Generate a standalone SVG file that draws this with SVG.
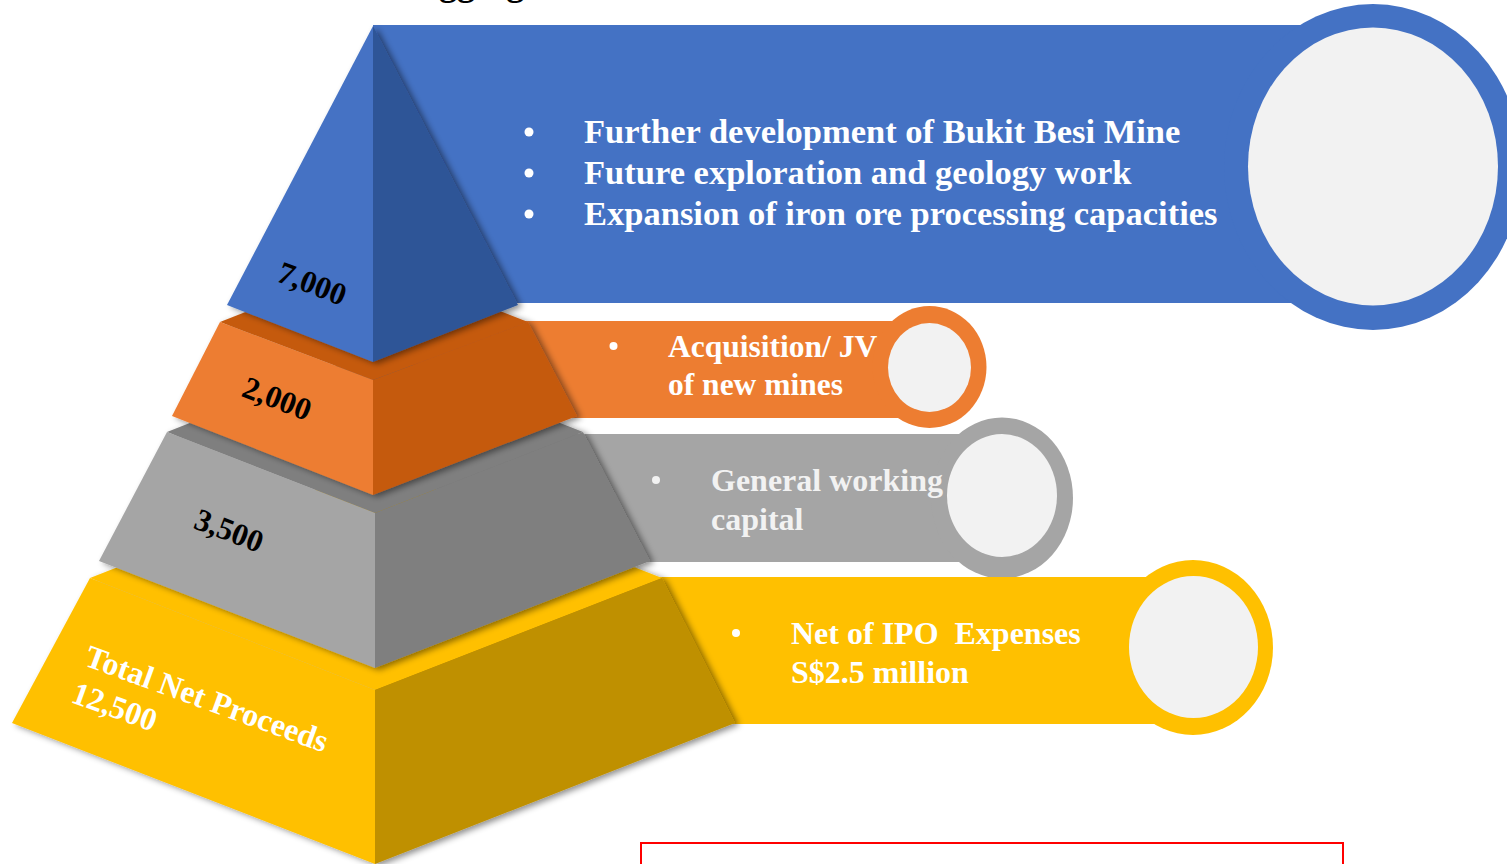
<svg xmlns="http://www.w3.org/2000/svg" width="1507" height="864" viewBox="0 0 1507 864">
<defs>
<style>
.t{font-family:"Liberation Serif","Times New Roman",serif;font-weight:bold}
.w{fill:#FFFFFF}
.lg{fill:#F2F2F2}
.lbl{font-size:31.5px;fill:#000000;text-anchor:middle}
.hole{fill:#F2F2F2}
</style>
<filter id="sh" x="-20%" y="-20%" width="140%" height="140%">
<feDropShadow dx="4" dy="2" stdDeviation="3" flood-color="#000000" flood-opacity="0.45"/>
</filter>
</defs>
<rect x="0" y="0" width="1507" height="864" fill="#FFFFFF"/>
<text class="t" x="413" y="-5" font-size="36" fill="#000000">Aggregate</text>

<g id="banner-blue">
<rect x="373" y="25" width="950" height="278" fill="#4472C4"/>
<ellipse cx="1373" cy="167" rx="149" ry="163" fill="#4472C4"/>
<ellipse class="hole" cx="1373" cy="166.5" rx="125" ry="139"/>
<g class="t w" font-size="34.5">
<circle cx="529" cy="132" r="4.5"/>
<circle cx="529" cy="173" r="4.5"/>
<circle cx="529" cy="214" r="4.5"/>
<text x="584" y="143">Further development of Bukit Besi Mine</text>
<text x="584" y="184">Future exploration and geology work</text>
<text x="584" y="225">Expansion of iron ore processing capacities</text>
</g>
</g>

<g id="banner-orange">
<rect x="373" y="321" width="540" height="97" fill="#ED7D31"/>
<ellipse cx="929.5" cy="367" rx="57" ry="61" fill="#ED7D31"/>
<ellipse class="hole" cx="929.5" cy="367.5" rx="41.5" ry="44.5"/>
<g class="t w" font-size="31.5">
<circle cx="613.5" cy="346" r="4"/>
<text x="668" y="357">Acquisition/ JV</text>
<text x="668" y="395">of new mines</text>
</g>
</g>

<g id="banner-gray">
<rect x="375" y="434" width="630" height="128" fill="#A5A5A5"/>
<ellipse cx="1002" cy="498" rx="71" ry="80.5" fill="#A5A5A5"/>
<ellipse class="hole" cx="1002" cy="495.5" rx="55" ry="61.5"/>
<g class="t lg" font-size="32">
<circle cx="656" cy="480" r="4"/>
<text x="711" y="491">General working</text>
<text x="711" y="530">capital</text>
</g>
</g>

<g id="banner-yellow">
<rect x="375" y="577" width="820" height="147" fill="#FFC000"/>
<ellipse cx="1193" cy="647.5" rx="80" ry="87.5" fill="#FFC000"/>
<ellipse class="hole" cx="1193.5" cy="647" rx="64.5" ry="71"/>
<g class="t w" font-size="32">
<circle cx="736" cy="633" r="4"/>
<text x="791" y="644" xml:space="preserve">Net of IPO  Expenses</text>
<text x="791" y="683">S$2.5 million</text>
</g>
</g>

<g id="layer-yellow" filter="url(#sh)">
<polygon points="90,578 375,466 662,578 375,690" fill="#FFC000"/>
<polygon points="90,578 375,690 375,864 12,723" fill="#FFC000"/>
<polygon points="375,690 662,578 735,723 375,864" fill="#BF9000"/>
</g>
<g id="label-yellow" class="t w" font-size="32">
<g transform="translate(83,665) rotate(20)">
<text x="0" y="0">Total Net Proceeds</text>
<text x="0" y="39">12,500</text>
</g>
</g>

<g id="layer-gray" filter="url(#sh)">
<polygon points="167,432 375,350 583,432 375,513" fill="#7F7F7F"/>
<polygon points="167,432 375,513 375,668 99,561" fill="#A5A5A5"/>
<polygon points="375,513 583,432 650,561 375,668" fill="#7F7F7F"/>
</g>
<text class="t lbl" transform="translate(229,531) rotate(21)" x="0" y="10">3,500</text>

<g id="layer-orange" filter="url(#sh)">
<polygon points="220,322 373,262 528,322 373,380" fill="#C55A11"/>
<polygon points="220,322 373,380 373,495 172,416" fill="#ED7D31"/>
<polygon points="373,380 528,322 577,416 373,495" fill="#C55A11"/>
</g>
<text class="t lbl" transform="translate(277,399) rotate(21)" x="0" y="10">2,000</text>

<g id="layer-blue" filter="url(#sh)">
<polygon points="373,26 227,305 373,362" fill="#4472C4"/>
<polygon points="373,26 518,305 373,362" fill="#2F5597"/>
</g>
<text class="t lbl" transform="translate(312,284) rotate(21)" x="0" y="10">7,000</text>

<g id="connectors"></g>

<rect x="641" y="843" width="702" height="40" fill="none" stroke="#FF0000" stroke-width="2"/>
</svg>
